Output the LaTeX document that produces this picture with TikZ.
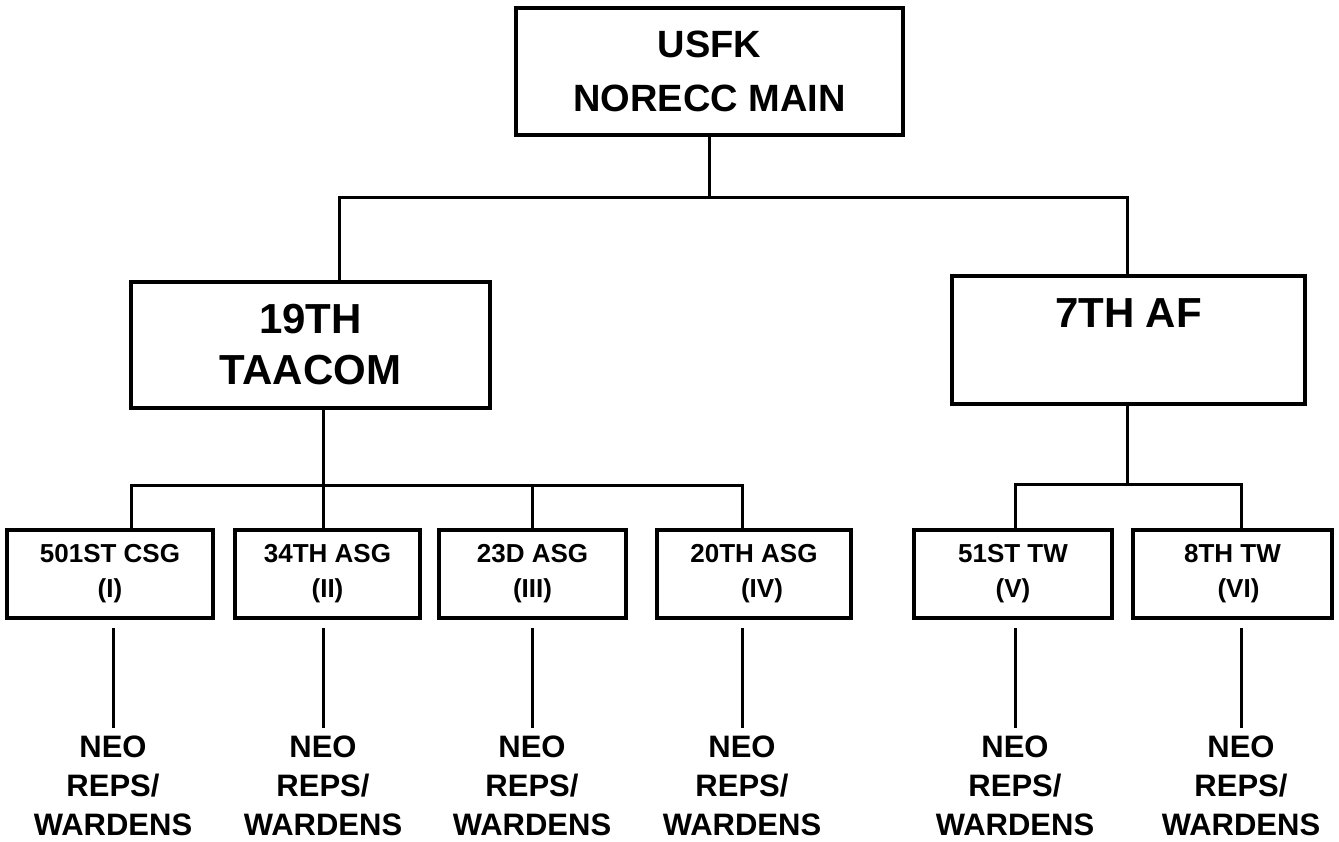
\documentclass[tikz,border=0pt]{standalone}
\usepackage{fontspec}
\setmainfont{Liberation Sans}
\usepackage{tikz}

\begin{document}
\begin{tikzpicture}[x=0.5pt, y=-0.5pt,
    bigbox/.style={draw, line width=1.6pt, align=center, font=\bfseries\fontsize{19}{27}\selectfont},
    unitbox/.style={draw, line width=1.6pt, align=center, minimum height=44pt, font=\bfseries\fontsize{13}{17.5}\selectfont},
    neolabel/.style={anchor=north, inner sep=3.5pt, align=center, font=\bfseries\fontsize{15.5}{19.5}\selectfont}]
    \useasboundingbox (0,0) rectangle (1339,841);

    % Draw top box
    \node[bigbox, minimum width=193.5pt, minimum height=63.5pt] (usfk) at (709.5,71.5) {USFK\\NORECC MAIN};

    % Draw second level
    \node[bigbox, minimum width=179.5pt, minimum height=63pt, font=\bfseries\fontsize{21}{25.5}\selectfont] (taacom) at (310.5,345) {19TH\\TAACOM};
    \node[bigbox, minimum width=176.5pt, minimum height=64pt, font=\bfseries\fontsize{21}{25.5}\selectfont, text height=15pt, text depth=28pt] (af) at (1128.5,340) {7TH AF};

    % Draw unit boxes
    \node[unitbox, minimum width=103pt] (csg) at (110,574) {501ST CSG\\(I)};
    \node[unitbox, minimum width=92.5pt] (asg34) at (327.5,574) {34TH ASG\\(II)};
    \node[unitbox, minimum width=93.5pt] (asg23) at (532.5,574) {23D ASG\\(III)};
    \node[unitbox, minimum width=97pt] (asg20) at (754,574) {20TH ASG\\\hspace*{8pt}(IV)};
    \node[unitbox, minimum width=99pt] (tw51) at (1013,574) {51ST TW\\(V)};
    \node[unitbox, minimum width=99.5pt] (tw8) at (1232.5,574) {8TH TW\\\hspace*{6pt}(VI)};

    % Bus points
    \coordinate (busL) at (339,197);
    \coordinate (busR) at (1127,197);
    \coordinate (taaL) at (131,485);
    \coordinate (taaM) at (323,485);
    \coordinate (taaN) at (532,485);
    \coordinate (taaR) at (742,485);
    \coordinate (afL) at (1015,484);
    \coordinate (afM) at (1127,484);
    \coordinate (afR) at (1241,484);

    % Connect top to second level
    \draw[line width=1.5pt] (usfk.south) -- (usfk.south |- busL);
    \draw[line width=1.5pt] (busL |- taacom.north) -- (busL) -- (busR) -- (busR |- af.north);

    % Connect 19TH TAACOM to units
    \draw[line width=1.5pt] (taaM |- taacom.south) -- (taaM |- asg34.north);
    \draw[line width=1.5pt] (taaL |- csg.north) -- (taaL) -- (taaR) -- (taaR |- asg20.north);
    \draw[line width=1.5pt] (taaN) -- (taaN |- asg23.north);

    % Connect 7TH AF to units
    \draw[line width=1.5pt] (afM |- af.south) -- (afM);
    \draw[line width=1.5pt] (afL |- tw51.north) -- (afL) -- (afR) -- (afR |- tw8.north);

    % NEO reps
    \node[neolabel] (neo1) at (113,728) {NEO\\REPS/\\WARDENS};
    \node[neolabel] (neo2) at (323,728) {NEO\\REPS/\\WARDENS};
    \node[neolabel] (neo3) at (532,728) {NEO\\REPS/\\WARDENS};
    \node[neolabel] (neo4) at (742,728) {NEO\\REPS/\\WARDENS};
    \node[neolabel] (neo5) at (1015,728) {NEO\\REPS/\\WARDENS};
    \node[neolabel] (neo6) at (1241,728) {NEO\\REPS/\\WARDENS};

    % Line tops under the unit boxes
    \coordinate (top1) at (113,628);
    \coordinate (top2) at (323,628);
    \coordinate (top3) at (532,628);
    \coordinate (top4) at (742,628);
    \coordinate (top5) at (1015,628);
    \coordinate (top6) at (1241,628);

    \draw[line width=1.5pt] (top1) -- (neo1.north);
    \draw[line width=1.5pt] (top2) -- (neo2.north);
    \draw[line width=1.5pt] (top3) -- (neo3.north);
    \draw[line width=1.5pt] (top4) -- (neo4.north);
    \draw[line width=1.5pt] (top5) -- (neo5.north);
    \draw[line width=1.5pt] (top6) -- (neo6.north);

\end{tikzpicture}
\end{document}
